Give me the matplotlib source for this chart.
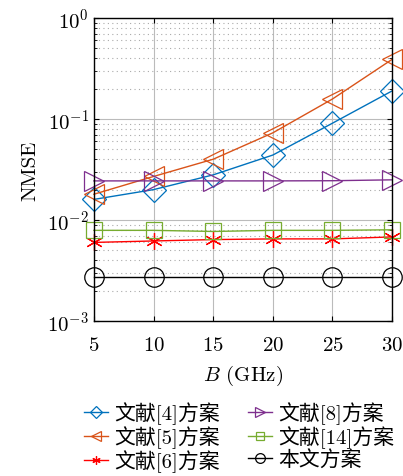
import matplotlib
matplotlib.use("Agg")
import matplotlib.pyplot as plt
from matplotlib.ticker import LogLocator, NullFormatter

plt.rcParams['mathtext.fontset'] = 'cm'
plt.rcParams['font.family'] = ['cmr10', 'Noto Sans CJK SC']
plt.rcParams['axes.formatter.use_mathtext'] = True

B = [5, 10, 15, 20, 25, 30]
ref4 = [0.016, 0.020, 0.028, 0.044, 0.091, 0.19]
ref5 = [0.018, 0.027, 0.040, 0.073, 0.158, 0.39]
ref6 = [0.0060, 0.0062, 0.0064, 0.0065, 0.0065, 0.0068]
ref8 = [0.0244, 0.0244, 0.0244, 0.0244, 0.0245, 0.0250]
ref14 = [0.0079, 0.0079, 0.0077, 0.0079, 0.0079, 0.0080]
ours = [0.0027, 0.0027, 0.0027, 0.0027, 0.0027, 0.0027]
labels = ['文献[4]方案', '文献[5]方案', '文献[6]方案', '文献[8]方案', '文献[14]方案', '本文方案']

fig = plt.figure(figsize=(4.03, 4.77), dpi=100)
ax = fig.add_axes([0.233, 0.325, 0.740, 0.635])

series = [
    (ref4, '#0072BD', 'D', 12),
    (ref5, '#D95319', '<', 14),
    (ref6, '#FF0000', (6, 2, 0), 12),
    (ref8, '#7E2F8E', '>', 14),
    (ref14, '#77AC30', 's', 12),
    (ours, '#000000', 'o', 14),
]
handles = []
for (vals, c, m, ms), lab in zip(series, labels):
    h, = ax.plot(B, vals, color=c, marker=m, ms=ms, mfc='none', mec=c, mew=0.9,
                 lw=1.0, label=lab, clip_on=False, zorder=3)
    handles.append(h)

ax.set_yscale('log')
ax.set_xlim(5, 30)
ax.set_ylim(1e-3, 1)
ax.set_xticks(B)
ax.yaxis.set_major_locator(LogLocator(base=10, numticks=10))
ax.yaxis.set_minor_locator(LogLocator(base=10, subs=range(2, 10), numticks=10))
ax.yaxis.set_minor_formatter(NullFormatter())
ax.grid(True, which='major', color='#bbbbbb', lw=0.8, ls='-')
ax.grid(True, which='minor', axis='y', color='#aaaaaa', lw=0.8, ls=(0, (1, 3)))
ax.tick_params(which='both', direction='in', top=True, right=True, labelsize=15)
ax.tick_params(axis='x', pad=11)
for s in ax.spines.values():
    s.set_linewidth(1.0)
    s.set_zorder(4)
ax.set_ylabel('NMSE', fontsize=15, labelpad=6)
ax.set_xlabel('$B$ (GHz)', fontsize=15, labelpad=6)

fig.legend(handles, labels, ncol=2,
           loc='upper left', bbox_to_anchor=(0.208, 0.156), frameon=False,
           fontsize=15, handlelength=1.15, handletextpad=0.3, columnspacing=1.35,
           labelspacing=0.06, markerscale=0.5, borderaxespad=0, borderpad=0)

fig.savefig('out.png', dpi=100)
